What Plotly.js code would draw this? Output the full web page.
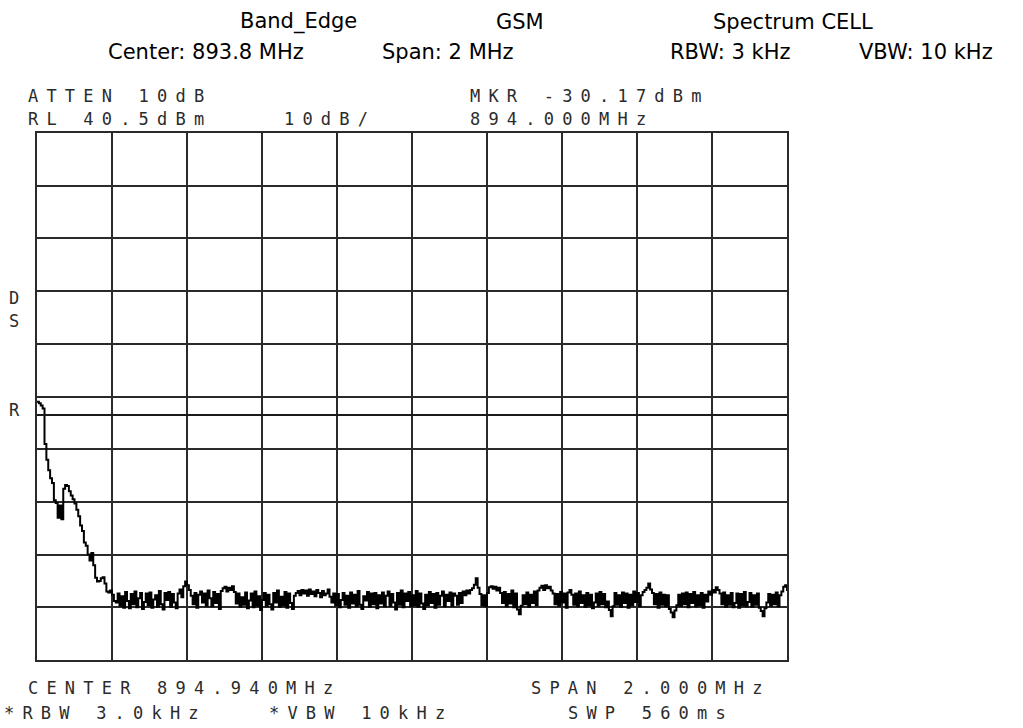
<!DOCTYPE html>
<html>
<head>
<meta charset="utf-8">
<script src="https://cdn.plot.ly/plotly-3.0.1.min.js"></script>
<style>
html,body{margin:0;padding:0;background:#fff;}
#chart{width:1023px;height:728px;}
text.annotation-text[style*="Mono"]{letter-spacing:8.2px;}
</style>
</head>
<body>
<div id="chart"></div>
<script>
// ---- data ----
const START_MHZ = 893.94;      // sweep start (center 894.940 MHz, span 2 MHz)
const STOP_MHZ = 895.94;
const STEP_MHZ = 0.005;        // 401 trace points
const REF_LEVEL = 40.5;        // dBm
const DB_PER_DIV = 10;
const LIMIT_DBM = -13;         // limit line
const levelsDbm = [
 -10.5,-10.8,-11.2,-11.8,-18.5,-21.5,-23.5,-25.0,-25.9,-29.2,-29.7,-32.5,-30.17,-32.8,-27.0,-26.3,-26.5,-27.5,-28.3,-29.0,
 -29.8,-31.0,-32.2,-34.0,-35.0,-37.2,-37.8,-39.5,-40.6,-39.2,-41.5,-43.9,-44.6,-44.5,-44.0,-43.8,-45.0,-46.5,-46.7,-46.3,
 -47.1,-48.3,-48.6,
 -46.9,-49.2,-47.4,-49.6,-46.6,-48.3,-49.7,-47.0,-48.9,-46.5,-49.5,-47.8,-46.8,-49.8,-48.5,-46.9,-49.1,-46.7,-49.6,-48.0,
 -47.2,-49.4,-46.4,-48.9,-49.9,-46.8,-48.1,-46.6,-49.4,-47.0,-48.6,-49.7,-46.9,-46.1,-47.6,-45.5,-44.6,-45.3,-46.2,-47.3,
 -48.9,-46.8,-49.6,-47.1,-46.5,-48.6,-46.9,-49.2,-46.3,-47.8,-49.3,-46.6,-48.7,-47.0,-49.8,-46.4,-45.9,-45.6,-46.5,-45.8,
 -46.2,-45.5,-46.6,-48.8,-46.9,-49.4,-47.6,-49.0,-46.7,-49.7,-48.2,-46.9,-49.5,-46.5,-49.2,-47.4,-50.0,-48.1,-46.8,-49.3,
 -47.1,-48.9,-49.9,-46.8,-48.6,-46.3,-49.4,-47.5,-49.1,-46.6,-49.6,-46.9,-48.7,-49.8,-47.3,-46.8,-46.4,-47.2,-46.2,-46.9,
 -46.3,-47.3,-46.1,-47.0,-46.5,-47.4,-46.2,-46.8,-47.6,-46.4,-47.2,-46.9,-46.1,-47.5,-48.6,-46.9,-49.1,-47.0,-49.5,-48.1,
 -46.8,-49.0,-47.3,-49.6,-46.7,-48.8,-47.1,-49.3,-46.4,-49.0,-49.8,-47.4,-48.2,-46.6,-49.4,-46.9,-48.9,-46.8,-49.7,-47.2,
 -48.8,-46.7,-49.3,-47.3,-46.5,-49.2,-47.0,-48.6,-49.9,-46.8,-49.0,-46.3,-49.5,-46.9,-48.3,-46.6,-49.3,-47.2,-49.1,-46.4,
 -49.4,-46.9,-48.8,-49.8,-47.1,-49.1,-46.6,-48.7,-47.0,-49.6,-46.8,-49.0,-47.3,-46.5,-49.3,-47.1,-48.3,-46.7,-49.2,-46.9,
 -47.3,-49.0,-46.8,-48.7,-46.5,-47.2,-46.3,-46.9,-46.2,-45.9,-45.2,-44.0,-45.8,-47.0,-49.1,-47.2,-49.3,-46.8,-45.7,-45.5,
 -46.0,-45.6,-46.3,-45.8,-46.8,-48.7,-46.6,-49.3,-47.0,-48.8,-46.3,-49.5,-46.9,-49.9,-50.8,-49.2,-47.2,-48.9,-46.7,-49.4,
 -47.1,-48.7,-46.5,-49.1,-46.3,-45.8,-45.4,-46.2,-45.3,-45.9,-45.6,-46.3,-46.9,-48.9,-47.0,-49.2,-46.6,-48.6,-46.9,-49.6,
 -46.7,-46.2,-47.1,-49.0,-46.9,-49.3,-46.5,-48.7,-47.2,-49.4,-46.8,-49.1,-47.1,-49.7,-48.6,-46.9,-49.2,-46.6,-48.9,-47.0,
 -49.5,-48.4,-50.0,-51.2,-49.3,-46.8,-49.0,-47.2,-49.4,-46.7,-48.7,-46.9,-49.6,-47.1,-49.1,-46.5,-48.5,-46.8,-49.3,-47.2,
 -46.6,-46.2,-45.8,-45.0,-46.1,-46.8,-48.9,-47.0,-49.6,-46.7,-49.0,-47.1,-49.3,-47.2,-49.8,-50.5,-51.4,-50.1,-49.1,-47.1,
 -49.2,-46.9,-48.9,-46.7,-49.5,-47.0,-48.7,-46.6,-49.3,-47.2,-49.1,-46.8,-49.6,-47.1,-48.4,-46.5,-47.1,-46.2,-46.7,-45.7,
 -46.2,-46.9,-48.9,-46.7,-49.4,-47.2,-49.0,-46.8,-49.5,-48.7,-46.9,-49.6,-47.0,-49.1,-46.6,-49.3,-48.5,-46.8,-49.4,-47.2,
 -49.0,-46.9,-49.6,-50.2,-51.2,-49.7,-48.6,-47.0,-49.2,-47.1,-48.9,-46.7,-49.3,-47.2,-46.5,-45.6,-45.3,-46.4
];
const headerRow1 = ["Band_Edge", "GSM", "Spectrum CELL"];
const headerRow2 = ["Center: 893.8 MHz", "Span: 2 MHz", "RBW: 3 kHz", "VBW: 10 kHz"];
const instrTop = ["ATTEN 10dB", "MKR -30.17dBm", "RL 40.5dBm", "10dB/", "894.000MHz"];
const instrSide = ["D", "S", "R"];
const instrBottom = ["CENTER 894.940MHz", "SPAN 2.000MHz", "*RBW 3.0kHz", "*VBW 10kHz", "SWP 560ms"];

// ---- layout geometry (pixels) ----
const W = 1023, H = 728;
const PL = 37, PR = 787, PT = 133, PB = 660;
const px = x => (x - PL) / (PR - PL);
const py = y => (PB - y) / (PB - PT);

const mono = {family: "DejaVu Sans Mono", size: 17, color: "#2b2b2b"};
const sans = {family: "DejaVu Sans", size: 21, color: "#000"};

function ann(text, x, y, font, xanchor) {
  return {text: text, xref: "paper", yref: "paper", x: px(x), y: py(y),
          xanchor: xanchor || "left", yanchor: "middle", showarrow: false, font: font,
          borderpad: 0};
}

const annotations = [
  ann(headerRow1[0], 298, 22, sans, "center"),
  ann(headerRow1[1], 520, 22, sans, "center"),
  ann(headerRow1[2], 793, 22, sans, "center"),
  ann(headerRow2[0], 206, 52, sans, "center"),
  ann(headerRow2[1], 448, 52, sans, "center"),
  ann(headerRow2[2], 730, 52, sans, "center"),
  ann(headerRow2[3], 926, 52, sans, "center"),
  ann(instrTop[0], 27, 96, mono),
  ann(instrTop[1], 469, 96, mono),
  ann(instrTop[2], 27, 119, mono),
  ann(instrTop[3], 283, 119, mono),
  ann(instrTop[4], 469, 119, mono),
  ann(instrSide[0], 8, 298, mono),
  ann(instrSide[1], 8, 321, mono),
  ann(instrSide[2], 8, 410, mono),
  ann(instrBottom[0], 27, 688, mono),
  ann(instrBottom[1], 530, 688, mono),
  ann(instrBottom[2], 3, 713, mono),
  ann(instrBottom[3], 268, 713, mono),
  ann(instrBottom[4], 567, 713, mono)
];

const traces = [
  {type: "scatter", mode: "lines", x0: START_MHZ, dx: STEP_MHZ, y: levelsDbm,
   line: {color: "#000", width: 2, shape: "hv"}, hoverinfo: "skip"},
  {type: "scatter", mode: "lines", x: [START_MHZ, STOP_MHZ], y: [LIMIT_DBM, LIMIT_DBM],
   line: {color: "#1a1a1a", width: 2}, hoverinfo: "skip"}
];

const gridCol = "#2a2a2a";
const layout = {
  width: W, height: H,
  margin: {l: PL, r: W - PR, t: PT, b: H - PB, pad: 0},
  paper_bgcolor: "#fff", plot_bgcolor: "#fff",
  showlegend: false,
  xaxis: {range: [START_MHZ, STOP_MHZ], tick0: START_MHZ, dtick: 0.2,
          showgrid: true, gridcolor: gridCol, gridwidth: 2,
          showline: true, linecolor: gridCol, linewidth: 2, mirror: true,
          showticklabels: false, ticks: "", zeroline: false, fixedrange: true},
  yaxis: {range: [REF_LEVEL - 10 * DB_PER_DIV, REF_LEVEL], tick0: REF_LEVEL, dtick: DB_PER_DIV,
          showgrid: true, gridcolor: gridCol, gridwidth: 2,
          showline: true, linecolor: gridCol, linewidth: 2, mirror: true,
          showticklabels: false, ticks: "", zeroline: false, fixedrange: true},
  annotations: annotations
};

Plotly.newPlot("chart", traces, layout, {displayModeBar: false, staticPlot: true});
</script>
</body>
</html>
